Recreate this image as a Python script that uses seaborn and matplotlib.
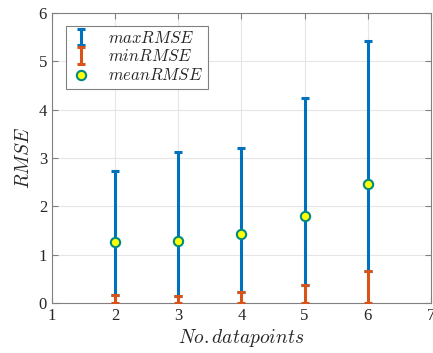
# RMSE vs number of datapoints
import numpy as np
import matplotlib
matplotlib.use("Agg")
import matplotlib.pyplot as plt
import seaborn as sns

# data
datapoints = [2, 3, 4, 5, 6]
max_rmse = [2.73, 3.12, 3.20, 4.25, 5.42]
min_rmse = [0.17, 0.15, 0.22, 0.37, 0.67]
mean_rmse = [1.27, 1.28, 1.42, 1.80, 2.46]

sns.set_style("ticks")
plt.rcParams['font.family'] = ['Liberation Serif', 'DejaVu Serif']
plt.rcParams['mathtext.fontset'] = 'cm'

x = np.array(datapoints)
mx = np.array(max_rmse)
mn = np.array(min_rmse)
me = np.array(mean_rmse)

fig = plt.figure(figsize=(4.33, 3.53), dpi=100)
ax = fig.add_axes([0.12, 0.142, 0.875, 0.821])

blue = '#0072BD'
orange = '#D95319'

# max: line from min up to max with cap
ax.errorbar(x, me, yerr=[me - mn, mx - me], fmt='none', ecolor=blue,
            elinewidth=2.2, capsize=3, capthick=2.2, label=r'$maxRMSE$', zorder=3)
# min: from 0 up to min
ax.errorbar(x, mn / 2, yerr=mn / 2, fmt='none', ecolor=orange,
            elinewidth=2.2, capsize=3, capthick=2.2, label=r'$minRMSE$', zorder=4)
sns.scatterplot(x=x, y=me, ax=ax, color='#FFFF00', edgecolor='#008a80',
                linewidth=1.5, s=45, zorder=5, label=r'$meanRMSE$')

ax.set_xlim(1, 7)
ax.set_ylim(0, 6)
ax.set_xticks(range(1, 8))
ax.set_yticks(range(0, 7))
ax.grid(True, color='#e6e6e6', linewidth=0.8)
ax.set_axisbelow(True)
ax.tick_params(direction='in', top=True, right=True, labelsize=12,
               colors='#262626', length=4)
ax.tick_params(color='#808080')
for s in ax.spines.values():
    s.set_color('#808080')
    s.set_linewidth(0.8)

ax.set_xlabel(r'$No.datapoints$', fontsize=14, labelpad=2)
ax.set_ylabel(r'$RMSE$', fontsize=14, labelpad=4)

handles, labels = ax.get_legend_handles_labels()
order = [labels.index(r'$maxRMSE$'), labels.index(r'$minRMSE$'), labels.index(r'$meanRMSE$')]
leg = ax.legend([handles[i] for i in order], [labels[i] for i in order],
                loc='upper left', fontsize=12, fancybox=False, framealpha=1,
                edgecolor='#808080', borderpad=0.3, labelspacing=0.15,
                handlelength=1.2, handletextpad=1.0, bbox_to_anchor=(0.015, 0.985))
leg.get_frame().set_linewidth(0.8)

fig.savefig("out.png", dpi=100)
